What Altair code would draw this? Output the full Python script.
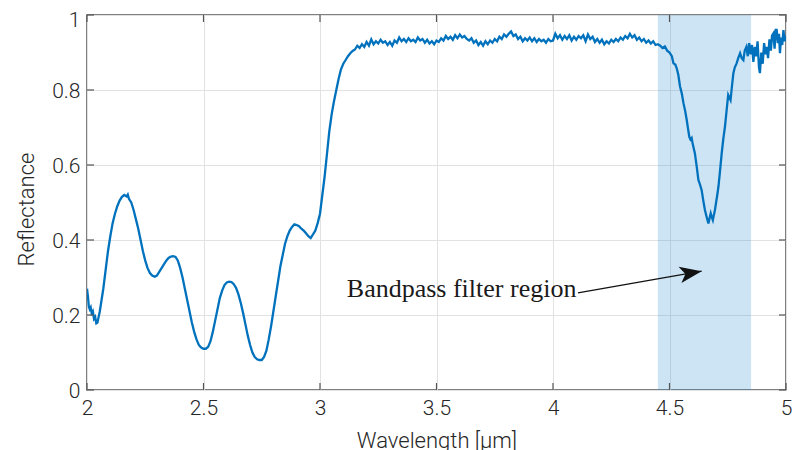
import altair as alt
import pandas as pd

# ---------------- data ----------------
smooth_x = [2.000, 2.004, 2.008, 2.012, 2.016, 2.020, 2.025, 2.030, 2.035, 2.040,
            2.045, 2.050, 2.055, 2.060, 2.070, 2.080, 2.090, 2.100, 2.110, 2.120,
            2.130, 2.140, 2.150, 2.160, 2.170, 2.175, 2.180, 2.190, 2.200, 2.210,
            2.220, 2.230, 2.240, 2.250, 2.260, 2.270, 2.280, 2.290, 2.300, 2.310,
            2.320, 2.330, 2.340, 2.350, 2.360, 2.370, 2.380, 2.390, 2.400, 2.410,
            2.420, 2.430, 2.440, 2.450, 2.460, 2.470, 2.480, 2.490, 2.500, 2.510,
            2.520, 2.530, 2.540, 2.550, 2.560, 2.570, 2.580, 2.590, 2.600, 2.610,
            2.620, 2.630, 2.640, 2.650, 2.660, 2.670, 2.680, 2.690, 2.700, 2.710,
            2.720, 2.730, 2.740, 2.750, 2.760, 2.770, 2.780, 2.790, 2.800, 2.810,
            2.820, 2.830, 2.840, 2.850, 2.860, 2.870, 2.880, 2.890, 2.900, 2.910,
            2.920, 2.930, 2.940, 2.950, 2.960, 2.970, 2.980, 2.990, 3.000, 3.010,
            3.020, 3.030, 3.040, 3.050, 3.060, 3.070, 3.080, 3.090, 3.100, 3.110,
            3.120, 3.130, 3.140]
smooth_y = [0.270, 0.250, 0.222, 0.215, 0.220, 0.205, 0.210, 0.190, 0.195, 0.178,
            0.180, 0.195, 0.210, 0.230, 0.270, 0.320, 0.370, 0.410, 0.445, 0.470,
            0.490, 0.505, 0.515, 0.520, 0.516, 0.521, 0.510, 0.500, 0.480, 0.455,
            0.430, 0.400, 0.370, 0.345, 0.325, 0.312, 0.305, 0.302, 0.305, 0.315,
            0.325, 0.335, 0.345, 0.352, 0.356, 0.357, 0.355, 0.345, 0.325, 0.300,
            0.270, 0.240, 0.210, 0.180, 0.155, 0.135, 0.120, 0.113, 0.110, 0.110,
            0.115, 0.130, 0.155, 0.185, 0.215, 0.245, 0.265, 0.280, 0.287, 0.289,
            0.288, 0.282, 0.272, 0.255, 0.232, 0.205, 0.175, 0.145, 0.120, 0.100,
            0.088, 0.082, 0.080, 0.080, 0.088, 0.105, 0.135, 0.170, 0.210, 0.250,
            0.290, 0.330, 0.360, 0.390, 0.410, 0.425, 0.435, 0.442, 0.440, 0.437,
            0.430, 0.425, 0.418, 0.410, 0.405, 0.415, 0.425, 0.445, 0.470, 0.520,
            0.570, 0.630, 0.690, 0.735, 0.770, 0.800, 0.830, 0.855, 0.870, 0.880,
            0.890, 0.898, 0.904]

plateau_start = 3.15
plateau_step = 0.01
plateau_y = [0.908, 0.918, 0.912, 0.922, 0.915, 0.928, 0.918, 0.935, 0.922, 0.930,
             0.924, 0.934, 0.926, 0.930, 0.920, 0.928, 0.918, 0.932, 0.926, 0.940,
             0.930, 0.936, 0.928, 0.938, 0.930, 0.934, 0.928, 0.940, 0.932, 0.936,
             0.926, 0.934, 0.924, 0.930, 0.922, 0.932, 0.928, 0.938, 0.932, 0.944,
             0.936, 0.942, 0.934, 0.946, 0.938, 0.948, 0.940, 0.944, 0.936, 0.932,
             0.938, 0.926, 0.932, 0.920, 0.928, 0.918, 0.930, 0.922, 0.932, 0.926,
             0.936, 0.930, 0.942, 0.936, 0.948, 0.942, 0.950, 0.956, 0.944, 0.948,
             0.936, 0.942, 0.930, 0.938, 0.932, 0.940, 0.930, 0.938, 0.928, 0.936,
             0.930, 0.934, 0.926, 0.936, 0.930, 0.932, 0.950, 0.938, 0.946, 0.934,
             0.944, 0.936, 0.946, 0.932, 0.942, 0.934, 0.944, 0.938, 0.946, 0.930,
             0.948, 0.936, 0.942, 0.928, 0.936, 0.926, 0.934, 0.922, 0.930, 0.924,
             0.934, 0.928, 0.936, 0.930, 0.940, 0.934, 0.944, 0.938, 0.950, 0.940,
             0.946, 0.934, 0.940, 0.930, 0.936, 0.926, 0.932, 0.924, 0.930, 0.920,
             0.922]

dip_x = [4.460, 4.470, 4.480, 4.490, 4.500, 4.510, 4.517, 4.525, 4.531, 4.538,
         4.545, 4.553, 4.560, 4.567, 4.574, 4.580, 4.585, 4.590, 4.595, 4.600,
         4.609, 4.617, 4.624, 4.631, 4.638, 4.645, 4.652, 4.660, 4.667, 4.672,
         4.677, 4.682, 4.686, 4.690, 4.695, 4.700, 4.705, 4.710, 4.717, 4.724,
         4.731, 4.738, 4.745, 4.752, 4.757, 4.762, 4.768, 4.774, 4.780, 4.788,
         4.795, 4.803, 4.810, 4.817]
dip_y = [0.918, 0.912, 0.916, 0.905, 0.900, 0.890, 0.871, 0.868, 0.858, 0.840,
         0.810, 0.790, 0.765, 0.745, 0.720, 0.695, 0.675, 0.668, 0.672, 0.655,
         0.631, 0.595, 0.560, 0.548, 0.533, 0.505, 0.480, 0.460, 0.444, 0.458,
         0.471, 0.460, 0.453, 0.465, 0.480, 0.500, 0.520, 0.542, 0.585, 0.631,
         0.670, 0.702, 0.745, 0.787, 0.780, 0.773, 0.810, 0.844, 0.860, 0.871,
         0.885, 0.898, 0.885, 0.880]

tail_x = [4.823, 4.830, 4.836, 4.842, 4.848, 4.854, 4.860, 4.866, 4.872, 4.878,
          4.884, 4.888, 4.894, 4.900, 4.906, 4.912, 4.917, 4.923, 4.929, 4.935,
          4.940, 4.946, 4.951, 4.956, 4.960, 4.965, 4.970, 4.974, 4.979, 4.984,
          4.989, 4.994, 5.000]
tail_y = [0.905, 0.915, 0.890, 0.925, 0.895, 0.920, 0.875, 0.915, 0.890, 0.930,
          0.860, 0.845, 0.900, 0.870, 0.925, 0.895, 0.915, 0.885, 0.935, 0.905,
          0.945, 0.951, 0.910, 0.960, 0.960, 0.925, 0.950, 0.898, 0.940, 0.920,
          0.960, 0.930, 0.945]

x_ticks = [2, 2.5, 3, 3.5, 4, 4.5, 5]
y_ticks = [0, 0.2, 0.4, 0.6, 0.8, 1]

band_start, band_end = 4.45, 4.85
label_text = "Bandpass filter region"
label_x, label_y = 3.115, 0.249
arrow_x0, arrow_y0 = 4.107, 0.259
arrow_x1, arrow_y1 = 4.638, 0.317

# ---------------- build table ----------------
plateau_x = [round(plateau_start + plateau_step * i, 3) for i in range(len(plateau_y))]
xs = smooth_x + plateau_x + dip_x + tail_x
ys = smooth_y + plateau_y + dip_y + tail_y
spec = pd.DataFrame({"x": xs, "y": ys, "order": list(range(len(xs)))})

W, H = 699, 375
FONT = "Roboto"
FRAME = "#555555"

xscale = alt.Scale(domain=[2, 5], nice=False, zero=False)
yscale = alt.Scale(domain=[0, 1], nice=False, zero=False)
X_AX = alt.Axis(values=x_ticks, format="~g", title="Wavelength [µm]", grid=True,
                titleY=57, titleBaseline="alphabetic")
Y_AX = alt.Axis(values=y_ticks, format="~g", title="Reflectance", grid=True,
                titleX=-54, titleY=194, titleBaseline="alphabetic", titleAngle=270,
                labelOffset=alt.condition("datum.value == 1", alt.value(5), alt.value(1)))


def X(f):
    return alt.X(f, scale=xscale, axis=X_AX)


def Y(f):
    return alt.Y(f, scale=yscale, axis=Y_AX)


band = alt.Chart(pd.DataFrame({"a": [band_start], "b": [band_end], "y0": [0], "y1": [1]})).mark_rect(
    color="#2E8FD6", opacity=0.24
).encode(x=X("a:Q"), x2="b:Q", y=Y("y0:Q"), y2="y1:Q")

line = alt.Chart(spec).mark_line(color="#0072BD", strokeWidth=2.3, clip=True).encode(
    x=X("x:Q"), y=Y("y:Q"), order="order:Q")

xt = pd.DataFrame({"t": x_ticks})
yt = pd.DataFrame({"t": y_ticks})
tick_style = dict(color=FRAME, strokeWidth=1.2)
tb = alt.Chart(xt).mark_rule(**tick_style).encode(x=X("t:Q"), y=alt.value(H), y2=alt.value(H - 7))
tt = alt.Chart(xt).mark_rule(**tick_style).encode(x=X("t:Q"), y=alt.value(0), y2=alt.value(7))
tl = alt.Chart(yt).mark_rule(**tick_style).encode(y=Y("t:Q"), x=alt.value(0), x2=alt.value(7))
tr = alt.Chart(yt).mark_rule(**tick_style).encode(y=Y("t:Q"), x=alt.value(W), x2=alt.value(W - 7))

ann = pd.DataFrame({"x0": [arrow_x0], "y0": [arrow_y0], "x1": [arrow_x1], "y1": [arrow_y1],
                    "lx": [label_x], "ly": [label_y], "txt": [label_text]})
arrow_line = alt.Chart(ann).mark_rule(color="#111111", strokeWidth=1.2).encode(
    x=X("x0:Q"), y=Y("y0:Q"), x2="x1:Q", y2="y1:Q")
arrow_head = alt.Chart(ann).mark_point(
    shape="M0,0L-2,-0.75L-1.5,0L-2,0.75Z", filled=True, color="#111111",
    size=484, angle=350, opacity=1, strokeWidth=0
).encode(x=X("x1:Q"), y=Y("y1:Q"))
label = alt.Chart(ann).mark_text(
    font="Liberation Serif", fontSize=26, align="left", baseline="alphabetic", color="#1a1a1a"
).encode(x=X("lx:Q"), y=Y("ly:Q"), text="txt:N")

chart = alt.layer(band, line, tb, tt, tl, tr, arrow_line, arrow_head, label).properties(
    width=W, height=H,
    autosize=alt.AutoSizeParams(type="none"),
    padding={"left": 79, "top": 7, "right": 7, "bottom": 60},
).configure_view(
    stroke=FRAME, strokeWidth=1.5
).configure_axis(
    domain=False, ticks=False, gridColor="#e2e2e2", gridWidth=1,
    labelFont=FONT, labelFontSize=21, labelFontWeight=300, labelColor="#262626",
    labelFlush=False, labelOverlap=False, titleFont=FONT, titleFontSize=22,
    titleFontWeight=300, titleColor="#262626",
).configure_axisX(labelPadding=7).configure_axisY(labelPadding=7)

chart.save("out.html", embed_options={"renderer": "svg", "actions": False})
